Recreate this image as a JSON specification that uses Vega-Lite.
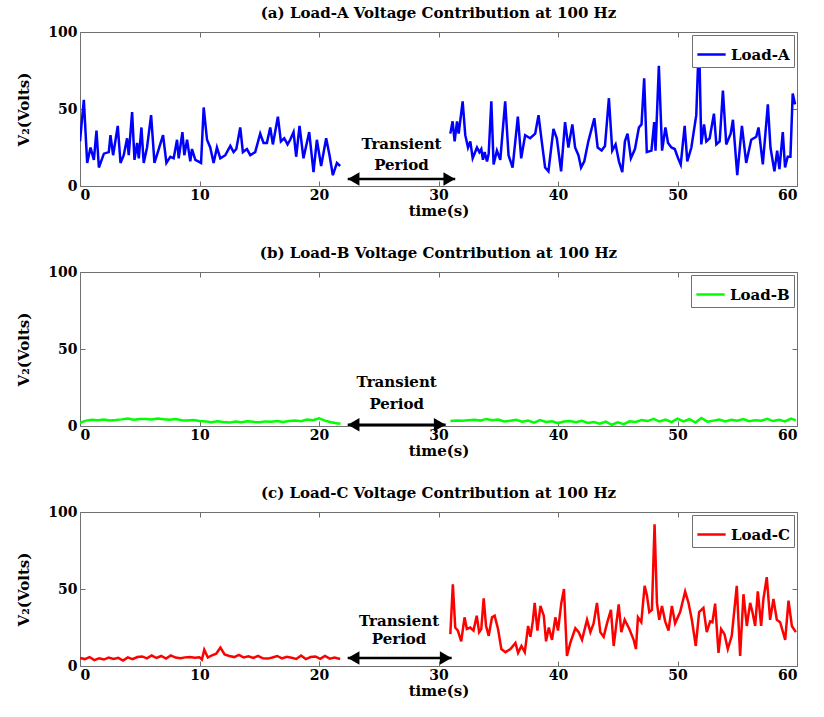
{
  "$schema": "https://vega.github.io/schema/vega-lite/v6.json",
  "padding": {"left": 16, "top": 5, "right": 4, "bottom": 2},
  "spacing": 26,
  "config": {
    "font": "DejaVu Serif",
    "view": {"stroke": "#707070", "strokeWidth": 1},
    "axis": {"grid": false, "domain": false, "labelFont": "DejaVu Serif", "labelFontWeight": "bold", "labelFontSize": 14, "labelColor": "#000", "titleFont": "DejaVu Serif", "titleFontWeight": "bold", "titleFontSize": 15, "titleColor": "#000", "tickColor": "#707070", "tickSize": -5},
    "axisX": {"labelPadding": 7},
    "axisY": {"labelPadding": 8},
    "legend": {"orient": "top-right", "offset": 3, "padding": 4, "strokeColor": "#707070", "fillColor": "#ffffff", "symbolType": "stroke", "symbolStrokeWidth": 2.5, "symbolSize": 800, "labelFont": "DejaVu Serif", "labelFontWeight": "bold", "labelFontSize": 15, "labelColor": "#000", "title": null, "cornerRadius": 0, "labelOffset": 4},
    "title": {"font": "DejaVu Serif", "fontWeight": "bold", "fontSize": 15, "color": "#000", "offset": 4},
    "text": {"font": "DejaVu Serif"}
  },
  "datasets": {
    "a": [
      {"t":0,"v":29,"s":1},{"t":0.32,"v":56,"s":1},{"t":0.6,"v":15,"s":1},{"t":0.88,"v":25,"s":1},{"t":1.16,"v":17,"s":1},{"t":1.38,"v":36,"s":1},{"t":1.58,"v":12,"s":1},{"t":2.0,"v":21,"s":1},{"t":2.41,"v":22,"s":1},{"t":2.55,"v":33,"s":1},{"t":2.77,"v":20,"s":1},{"t":3.16,"v":39,"s":1},{"t":3.39,"v":15,"s":1},{"t":3.66,"v":20,"s":1},{"t":3.94,"v":31,"s":1},{"t":4.08,"v":20,"s":1},{"t":4.36,"v":48,"s":1},{"t":4.56,"v":17,"s":1},{"t":4.78,"v":28,"s":1},{"t":4.92,"v":18,"s":1},{"t":5.14,"v":38,"s":1},{"t":5.33,"v":15,"s":1},{"t":5.61,"v":25,"s":1},{"t":5.95,"v":46,"s":1},{"t":6.23,"v":15,"s":1},{"t":6.59,"v":24,"s":1},{"t":6.95,"v":33,"s":1},{"t":7.23,"v":15,"s":1},{"t":7.56,"v":19,"s":1},{"t":7.84,"v":18,"s":1},{"t":8.12,"v":30,"s":1},{"t":8.26,"v":18,"s":1},{"t":8.57,"v":35,"s":1},{"t":8.73,"v":20,"s":1},{"t":8.96,"v":30,"s":1},{"t":9.23,"v":16,"s":1},{"t":9.37,"v":24,"s":1},{"t":9.65,"v":17,"s":1},{"t":10.13,"v":15,"s":1},{"t":10.35,"v":51,"s":1},{"t":10.63,"v":30,"s":1},{"t":10.9,"v":25,"s":1},{"t":11.18,"v":15,"s":1},{"t":11.46,"v":25,"s":1},{"t":11.74,"v":18,"s":1},{"t":12.16,"v":20,"s":1},{"t":12.58,"v":26,"s":1},{"t":12.85,"v":22,"s":1},{"t":13.08,"v":24,"s":1},{"t":13.41,"v":38,"s":1},{"t":13.63,"v":22,"s":1},{"t":13.97,"v":24,"s":1},{"t":14.25,"v":20,"s":1},{"t":14.66,"v":22,"s":1},{"t":15.08,"v":34,"s":1},{"t":15.36,"v":28,"s":1},{"t":15.64,"v":28,"s":1},{"t":15.92,"v":38,"s":1},{"t":16.14,"v":27,"s":1},{"t":16.56,"v":45,"s":1},{"t":16.81,"v":29,"s":1},{"t":17.09,"v":31,"s":1},{"t":17.37,"v":27,"s":1},{"t":17.59,"v":30,"s":1},{"t":17.87,"v":35,"s":1},{"t":18.09,"v":19,"s":1},{"t":18.37,"v":39,"s":1},{"t":18.7,"v":18,"s":1},{"t":19.18,"v":35,"s":1},{"t":19.54,"v":9,"s":1},{"t":19.82,"v":30,"s":1},{"t":20.18,"v":13,"s":1},{"t":20.6,"v":31,"s":1},{"t":20.88,"v":20,"s":1},{"t":21.16,"v":7,"s":1},{"t":21.5,"v":15,"s":1},{"t":21.77,"v":13,"s":1},
      {"t":30.99,"v":34,"s":2},{"t":31.18,"v":42,"s":2},{"t":31.35,"v":29,"s":2},{"t":31.55,"v":42,"s":2},{"t":31.69,"v":34,"s":2},{"t":32.02,"v":55,"s":2},{"t":32.24,"v":33,"s":2},{"t":32.47,"v":25,"s":2},{"t":32.66,"v":29,"s":2},{"t":32.86,"v":18,"s":2},{"t":33.22,"v":25,"s":2},{"t":33.42,"v":22,"s":2},{"t":33.58,"v":24,"s":2},{"t":33.72,"v":17,"s":2},{"t":33.86,"v":22,"s":2},{"t":34.06,"v":16,"s":2},{"t":34.2,"v":21,"s":2},{"t":34.42,"v":55,"s":2},{"t":34.61,"v":14,"s":2},{"t":34.89,"v":23,"s":2},{"t":35.17,"v":17,"s":2},{"t":35.58,"v":55,"s":2},{"t":35.86,"v":20,"s":2},{"t":36.2,"v":12,"s":2},{"t":36.64,"v":45,"s":2},{"t":36.92,"v":18,"s":2},{"t":37.25,"v":33,"s":2},{"t":37.67,"v":31,"s":2},{"t":38.09,"v":34,"s":2},{"t":38.37,"v":46,"s":2},{"t":38.64,"v":29,"s":2},{"t":38.92,"v":12,"s":2},{"t":39.2,"v":9.5,"s":2},{"t":39.62,"v":37,"s":2},{"t":39.9,"v":31,"s":2},{"t":40.26,"v":9.5,"s":2},{"t":40.59,"v":41.5,"s":2},{"t":40.87,"v":25,"s":2},{"t":41.2,"v":40,"s":2},{"t":41.43,"v":25,"s":2},{"t":41.71,"v":20,"s":2},{"t":41.93,"v":12,"s":2},{"t":42.2,"v":16,"s":2},{"t":42.54,"v":29,"s":2},{"t":43.04,"v":44,"s":2},{"t":43.32,"v":25,"s":2},{"t":43.65,"v":23,"s":2},{"t":43.93,"v":26,"s":2},{"t":44.26,"v":57,"s":2},{"t":44.54,"v":23,"s":2},{"t":44.82,"v":27,"s":2},{"t":45.1,"v":16,"s":2},{"t":45.38,"v":9,"s":2},{"t":45.6,"v":29,"s":2},{"t":45.82,"v":34,"s":2},{"t":46.1,"v":18,"s":2},{"t":46.44,"v":24,"s":2},{"t":46.77,"v":38,"s":2},{"t":46.99,"v":40,"s":2},{"t":47.21,"v":70,"s":2},{"t":47.43,"v":22,"s":2},{"t":47.82,"v":23,"s":2},{"t":48.05,"v":41.5,"s":2},{"t":48.16,"v":23,"s":2},{"t":48.44,"v":78,"s":2},{"t":48.71,"v":23,"s":2},{"t":48.99,"v":38,"s":2},{"t":49.21,"v":28,"s":2},{"t":49.49,"v":25,"s":2},{"t":49.77,"v":24,"s":2},{"t":50.05,"v":18,"s":2},{"t":50.27,"v":14,"s":2},{"t":50.6,"v":39,"s":2},{"t":50.82,"v":16,"s":2},{"t":51.16,"v":25,"s":2},{"t":51.57,"v":46,"s":2},{"t":51.8,"v":96.5,"s":2},{"t":51.99,"v":27,"s":2},{"t":52.22,"v":40,"s":2},{"t":52.41,"v":29,"s":2},{"t":52.69,"v":31,"s":2},{"t":53.05,"v":47,"s":2},{"t":53.25,"v":27,"s":2},{"t":53.53,"v":29,"s":2},{"t":53.8,"v":62,"s":2},{"t":54.08,"v":27,"s":2},{"t":54.45,"v":34,"s":2},{"t":54.64,"v":43,"s":2},{"t":55.0,"v":7,"s":2},{"t":55.39,"v":39,"s":2},{"t":55.75,"v":15,"s":2},{"t":56.17,"v":30,"s":2},{"t":56.59,"v":32,"s":2},{"t":56.78,"v":38,"s":2},{"t":57.14,"v":14,"s":2},{"t":57.56,"v":53,"s":2},{"t":57.78,"v":25,"s":2},{"t":58.11,"v":9.5,"s":2},{"t":58.34,"v":23,"s":2},{"t":58.53,"v":11,"s":2},{"t":58.81,"v":35,"s":2},{"t":59.0,"v":12,"s":2},{"t":59.22,"v":19,"s":2},{"t":59.45,"v":19,"s":2},{"t":59.64,"v":60,"s":2},{"t":59.84,"v":53,"s":2}
    ],
    "b": [
      {"t":0,"v":2,"s":1},{"t":0.5,"v":3.5,"s":1},{"t":1,"v":4,"s":1},{"t":1.5,"v":3.8,"s":1},{"t":2,"v":4.2,"s":1},{"t":2.5,"v":3.6,"s":1},{"t":3,"v":3.9,"s":1},{"t":3.5,"v":4.3,"s":1},{"t":4,"v":4.8,"s":1},{"t":4.5,"v":4.1,"s":1},{"t":5,"v":4.5,"s":1},{"t":5.5,"v":4.6,"s":1},{"t":6,"v":4.2,"s":1},{"t":6.5,"v":4.8,"s":1},{"t":7,"v":4.4,"s":1},{"t":7.5,"v":4.0,"s":1},{"t":8,"v":4.6,"s":1},{"t":8.5,"v":3.8,"s":1},{"t":9,"v":3.5,"s":1},{"t":9.5,"v":3.9,"s":1},{"t":10,"v":3.2,"s":1},{"t":10.5,"v":3.0,"s":1},{"t":11,"v":2.4,"s":1},{"t":11.5,"v":3.1,"s":1},{"t":12,"v":2.6,"s":1},{"t":12.5,"v":2.2,"s":1},{"t":13,"v":2.9,"s":1},{"t":13.5,"v":2.5,"s":1},{"t":14,"v":3.1,"s":1},{"t":14.5,"v":2.7,"s":1},{"t":15,"v":2.4,"s":1},{"t":15.5,"v":3.0,"s":1},{"t":16,"v":2.8,"s":1},{"t":16.5,"v":3.2,"s":1},{"t":17,"v":2.6,"s":1},{"t":17.5,"v":3.3,"s":1},{"t":18,"v":3.6,"s":1},{"t":18.5,"v":3.1,"s":1},{"t":19,"v":4.2,"s":1},{"t":19.5,"v":3.7,"s":1},{"t":20,"v":5.0,"s":1},{"t":20.5,"v":3.5,"s":1},{"t":21,"v":2.4,"s":1},{"t":21.5,"v":1.8,"s":1},{"t":21.8,"v":1.5,"s":1},
      {"t":31,"v":3.2,"s":2},{"t":31.5,"v":3.6,"s":2},{"t":32,"v":3.4,"s":2},{"t":32.5,"v":3.8,"s":2},{"t":33,"v":4.0,"s":2},{"t":33.5,"v":3.5,"s":2},{"t":34,"v":4.6,"s":2},{"t":34.5,"v":3.7,"s":2},{"t":35,"v":4.2,"s":2},{"t":35.5,"v":3.0,"s":2},{"t":36,"v":3.4,"s":2},{"t":36.5,"v":4.0,"s":2},{"t":37,"v":2.8,"s":2},{"t":37.5,"v":3.6,"s":2},{"t":38,"v":2.2,"s":2},{"t":38.5,"v":3.9,"s":2},{"t":39,"v":2.6,"s":2},{"t":39.5,"v":3.1,"s":2},{"t":40,"v":1.8,"s":2},{"t":40.5,"v":2.9,"s":2},{"t":41,"v":3.2,"s":2},{"t":41.5,"v":2.5,"s":2},{"t":42,"v":3.4,"s":2},{"t":42.5,"v":2.0,"s":2},{"t":43,"v":2.6,"s":2},{"t":43.5,"v":1.5,"s":2},{"t":44,"v":2.9,"s":2},{"t":44.5,"v":0.8,"s":2},{"t":45,"v":2.4,"s":2},{"t":45.5,"v":1.2,"s":2},{"t":46,"v":3.0,"s":2},{"t":46.5,"v":2.6,"s":2},{"t":47,"v":3.8,"s":2},{"t":47.5,"v":3.2,"s":2},{"t":48,"v":4.6,"s":2},{"t":48.5,"v":2.9,"s":2},{"t":49,"v":4.2,"s":2},{"t":49.5,"v":2.5,"s":2},{"t":50,"v":4.8,"s":2},{"t":50.5,"v":3.0,"s":2},{"t":51,"v":4.4,"s":2},{"t":51.5,"v":2.2,"s":2},{"t":52,"v":5.2,"s":2},{"t":52.5,"v":2.8,"s":2},{"t":53,"v":3.5,"s":2},{"t":53.5,"v":4.2,"s":2},{"t":54,"v":3.0,"s":2},{"t":54.5,"v":4.0,"s":2},{"t":55,"v":3.4,"s":2},{"t":55.5,"v":4.5,"s":2},{"t":56,"v":3.1,"s":2},{"t":56.5,"v":3.8,"s":2},{"t":57,"v":3.4,"s":2},{"t":57.5,"v":4.6,"s":2},{"t":58,"v":3.2,"s":2},{"t":58.5,"v":4.0,"s":2},{"t":59,"v":3.0,"s":2},{"t":59.5,"v":4.8,"s":2},{"t":59.9,"v":3.6,"s":2}
    ],
    "c": [
      {"t":0,"v":5.2,"s":1},{"t":0.4,"v":4.5,"s":1},{"t":0.8,"v":5.8,"s":1},{"t":1.2,"v":3.8,"s":1},{"t":1.6,"v":5.0,"s":1},{"t":2.0,"v":4.2,"s":1},{"t":2.4,"v":5.5,"s":1},{"t":2.8,"v":4.6,"s":1},{"t":3.2,"v":5.3,"s":1},{"t":3.6,"v":3.5,"s":1},{"t":4.0,"v":5.6,"s":1},{"t":4.4,"v":4.4,"s":1},{"t":4.8,"v":5.8,"s":1},{"t":5.2,"v":6.2,"s":1},{"t":5.6,"v":5.0,"s":1},{"t":6.0,"v":6.8,"s":1},{"t":6.4,"v":5.2,"s":1},{"t":6.8,"v":6.5,"s":1},{"t":7.2,"v":4.8,"s":1},{"t":7.6,"v":6.9,"s":1},{"t":8.0,"v":5.5,"s":1},{"t":8.4,"v":5.0,"s":1},{"t":8.8,"v":5.6,"s":1},{"t":9.2,"v":5.9,"s":1},{"t":9.6,"v":5.3,"s":1},{"t":10.0,"v":5.7,"s":1},{"t":10.2,"v":4.2,"s":1},{"t":10.4,"v":10.5,"s":1},{"t":10.7,"v":5.5,"s":1},{"t":11.0,"v":6.8,"s":1},{"t":11.4,"v":8.0,"s":1},{"t":11.75,"v":12.0,"s":1},{"t":12.1,"v":7.5,"s":1},{"t":12.5,"v":6.5,"s":1},{"t":12.9,"v":5.8,"s":1},{"t":13.3,"v":7.2,"s":1},{"t":13.7,"v":5.5,"s":1},{"t":14.1,"v":6.3,"s":1},{"t":14.5,"v":5.2,"s":1},{"t":14.9,"v":6.6,"s":1},{"t":15.3,"v":5.0,"s":1},{"t":15.7,"v":4.8,"s":1},{"t":16.1,"v":5.5,"s":1},{"t":16.5,"v":6.5,"s":1},{"t":16.9,"v":4.9,"s":1},{"t":17.3,"v":6.0,"s":1},{"t":17.7,"v":5.3,"s":1},{"t":18.1,"v":4.6,"s":1},{"t":18.5,"v":6.8,"s":1},{"t":18.9,"v":4.5,"s":1},{"t":19.3,"v":5.8,"s":1},{"t":19.7,"v":6.2,"s":1},{"t":20.1,"v":4.6,"s":1},{"t":20.5,"v":6.5,"s":1},{"t":20.9,"v":4.8,"s":1},{"t":21.3,"v":5.5,"s":1},{"t":21.77,"v":4.5,"s":1},
      {"t":30.99,"v":20.7,"s":2},{"t":31.2,"v":53,"s":2},{"t":31.4,"v":25,"s":2},{"t":31.62,"v":23,"s":2},{"t":31.9,"v":16,"s":2},{"t":32.18,"v":31.6,"s":2},{"t":32.37,"v":24,"s":2},{"t":32.65,"v":25,"s":2},{"t":32.93,"v":23,"s":2},{"t":33.2,"v":32.7,"s":2},{"t":33.4,"v":22,"s":2},{"t":33.58,"v":24,"s":2},{"t":33.78,"v":44,"s":2},{"t":33.98,"v":26,"s":2},{"t":34.2,"v":19.6,"s":2},{"t":34.48,"v":31.6,"s":2},{"t":34.7,"v":32.7,"s":2},{"t":34.98,"v":24,"s":2},{"t":35.26,"v":11,"s":2},{"t":35.6,"v":9,"s":2},{"t":36.02,"v":11,"s":2},{"t":36.44,"v":15,"s":2},{"t":36.66,"v":8.5,"s":2},{"t":36.94,"v":13,"s":2},{"t":37.22,"v":9,"s":2},{"t":37.5,"v":26,"s":2},{"t":37.69,"v":19,"s":2},{"t":37.89,"v":28.8,"s":2},{"t":38.05,"v":41,"s":2},{"t":38.28,"v":23,"s":2},{"t":38.53,"v":39,"s":2},{"t":38.81,"v":32.7,"s":2},{"t":39.0,"v":16,"s":2},{"t":39.23,"v":25,"s":2},{"t":39.5,"v":17,"s":2},{"t":39.78,"v":31.6,"s":2},{"t":40.0,"v":23,"s":2},{"t":40.28,"v":41,"s":2},{"t":40.5,"v":50,"s":2},{"t":40.75,"v":6.5,"s":2},{"t":41.03,"v":15,"s":2},{"t":41.45,"v":24.5,"s":2},{"t":41.73,"v":22,"s":2},{"t":42.01,"v":17,"s":2},{"t":42.43,"v":30,"s":2},{"t":42.71,"v":22,"s":2},{"t":42.98,"v":27.7,"s":2},{"t":43.26,"v":41,"s":2},{"t":43.54,"v":22,"s":2},{"t":43.82,"v":19,"s":2},{"t":44.1,"v":27.7,"s":2},{"t":44.43,"v":36.4,"s":2},{"t":44.66,"v":13,"s":2},{"t":45.08,"v":40,"s":2},{"t":45.3,"v":22,"s":2},{"t":45.58,"v":30,"s":2},{"t":45.97,"v":24,"s":2},{"t":46.33,"v":17,"s":2},{"t":46.52,"v":11,"s":2},{"t":46.69,"v":31.6,"s":2},{"t":46.97,"v":28.4,"s":2},{"t":47.25,"v":52,"s":2},{"t":47.44,"v":46,"s":2},{"t":47.64,"v":35,"s":2},{"t":47.86,"v":36.4,"s":2},{"t":48.08,"v":92,"s":2},{"t":48.28,"v":41,"s":2},{"t":48.47,"v":30,"s":2},{"t":48.7,"v":39,"s":2},{"t":48.97,"v":29,"s":2},{"t":49.25,"v":23,"s":2},{"t":49.53,"v":39,"s":2},{"t":49.8,"v":27.7,"s":2},{"t":50.22,"v":35,"s":2},{"t":50.64,"v":48.4,"s":2},{"t":50.92,"v":41,"s":2},{"t":51.2,"v":30,"s":2},{"t":51.53,"v":13,"s":2},{"t":51.81,"v":35,"s":2},{"t":52.17,"v":37.7,"s":2},{"t":52.45,"v":22,"s":2},{"t":52.73,"v":29,"s":2},{"t":52.92,"v":28.4,"s":2},{"t":53.15,"v":40.5,"s":2},{"t":53.43,"v":8.5,"s":2},{"t":53.65,"v":24,"s":2},{"t":53.93,"v":20.7,"s":2},{"t":54.21,"v":11,"s":2},{"t":54.54,"v":19.6,"s":2},{"t":54.96,"v":52,"s":2},{"t":55.24,"v":6.5,"s":2},{"t":55.52,"v":46.6,"s":2},{"t":55.8,"v":26,"s":2},{"t":56.08,"v":41,"s":2},{"t":56.27,"v":35,"s":2},{"t":56.5,"v":26,"s":2},{"t":56.72,"v":48.4,"s":2},{"t":57.0,"v":26,"s":2},{"t":57.19,"v":43.5,"s":2},{"t":57.47,"v":57.7,"s":2},{"t":57.75,"v":30,"s":2},{"t":58.03,"v":43.5,"s":2},{"t":58.31,"v":30,"s":2},{"t":58.59,"v":28.4,"s":2},{"t":59.01,"v":17,"s":2},{"t":59.29,"v":42.5,"s":2},{"t":59.57,"v":26,"s":2},{"t":59.9,"v":22,"s":2}
    ]
  },
  "vconcat": [
    {
      "width": 717, "height": 154,
      "title": "(a) Load-A Voltage Contribution at 100 Hz",
      "resolve": {"axis": {"x": "independent", "y": "independent"}},
      "layer": [
        {
          "data": {"name": "a"},
          "mark": {"type": "line", "strokeWidth": 2.5, "clip": true},
          "encoding": {
            "x": {"field": "t", "type": "quantitative", "scale": {"domain": [0, 60], "nice": false}, "axis": {"values": [0,10,20,30,40,50,60], "title": "time(s)", "titlePadding": 1}},
            "y": {"field": "v", "type": "quantitative", "scale": {"domain": [0, 100], "nice": false}, "axis": {"values": [0,50,100], "title": "V₂(Volts)", "titlePadding": 16}},
            "color": {"datum": "Load-A", "scale": {"range": ["#0000ff"]}},
            "detail": {"field": "s"}
          }
        },
        {
          "data": {"name": "a"},
          "mark": {"type": "point", "opacity": 0},
          "encoding": {
            "x": {"field": "t", "type": "quantitative", "axis": {"orient": "top", "values": [0,10,20,30,40,50,60], "labels": false, "title": null}},
            "y": {"field": "v", "type": "quantitative", "axis": {"orient": "right", "values": [0,50,100], "labels": false, "title": null}}
          }
        },
        {
          "data": {"values": [{"x1": 22.4, "x2": 31.4, "y": 4.5}]},
          "mark": {"type": "rule", "strokeWidth": 2.5, "color": "#000"},
          "encoding": {"x": {"field": "x1", "type": "quantitative", "axis": null}, "x2": {"field": "x2"}, "y": {"field": "y", "type": "quantitative", "axis": null}}
        },
        {
          "data": {"values": [{"x": 22.9, "y": 4.5, "dir": "triangle-left"}, {"x": 30.9, "y": 4.5, "dir": "triangle-right"}]},
          "mark": {"type": "point", "filled": true, "size": 180, "opacity": 1, "color": "#000"},
          "encoding": {"x": {"field": "x", "type": "quantitative", "axis": null}, "y": {"field": "y", "type": "quantitative", "axis": null}, "shape": {"field": "dir", "type": "nominal", "scale": {"domain": ["triangle-left", "triangle-right"], "range": ["triangle-left", "triangle-right"]}, "legend": null}}
        },
        {
          "data": {"values": [{"x": 26.9, "y": 27, "label": "Transient"}, {"x": 26.9, "y": 13.5, "label": "Period"}]},
          "mark": {"type": "text", "fontWeight": "bold", "fontSize": 15, "color": "#000"},
          "encoding": {"x": {"field": "x", "type": "quantitative", "axis": null}, "y": {"field": "y", "type": "quantitative", "axis": null}, "text": {"field": "label"}}
        }
      ]
    },
    {
      "width": 717, "height": 154,
      "title": "(b) Load-B Voltage Contribution at 100 Hz",
      "resolve": {"axis": {"x": "independent", "y": "independent"}},
      "layer": [
        {
          "data": {"name": "b"},
          "mark": {"type": "line", "strokeWidth": 2.5, "clip": true},
          "encoding": {
            "x": {"field": "t", "type": "quantitative", "scale": {"domain": [0, 60], "nice": false}, "axis": {"values": [0,10,20,30,40,50,60], "title": "time(s)", "titlePadding": 1}},
            "y": {"field": "v", "type": "quantitative", "scale": {"domain": [0, 100], "nice": false}, "axis": {"values": [0,50,100], "title": "V₂(Volts)", "titlePadding": 16}},
            "color": {"datum": "Load-B", "scale": {"range": ["#00ff00"]}},
            "detail": {"field": "s"}
          }
        },
        {
          "data": {"name": "b"},
          "mark": {"type": "point", "opacity": 0},
          "encoding": {
            "x": {"field": "t", "type": "quantitative", "axis": {"orient": "top", "values": [0,10,20,30,40,50,60], "labels": false, "title": null}},
            "y": {"field": "v", "type": "quantitative", "axis": {"orient": "right", "values": [0,50,100], "labels": false, "title": null}}
          }
        },
        {
          "data": {"values": [{"x1": 22.4, "x2": 30.6, "y": 0.8}]},
          "mark": {"type": "rule", "strokeWidth": 2.5, "color": "#000"},
          "encoding": {"x": {"field": "x1", "type": "quantitative", "axis": null}, "x2": {"field": "x2"}, "y": {"field": "y", "type": "quantitative", "axis": null}}
        },
        {
          "data": {"values": [{"x": 22.9, "y": 0.8, "dir": "triangle-left"}, {"x": 30.1, "y": 0.8, "dir": "triangle-right"}]},
          "mark": {"type": "point", "filled": true, "size": 180, "opacity": 1, "color": "#000"},
          "encoding": {"x": {"field": "x", "type": "quantitative", "axis": null}, "y": {"field": "y", "type": "quantitative", "axis": null}, "shape": {"field": "dir", "type": "nominal", "scale": {"domain": ["triangle-left", "triangle-right"], "range": ["triangle-left", "triangle-right"]}, "legend": null}}
        },
        {
          "data": {"values": [{"x": 26.5, "y": 28.6, "label": "Transient"}, {"x": 26.5, "y": 14.3, "label": "Period"}]},
          "mark": {"type": "text", "fontWeight": "bold", "fontSize": 15, "color": "#000"},
          "encoding": {"x": {"field": "x", "type": "quantitative", "axis": null}, "y": {"field": "y", "type": "quantitative", "axis": null}, "text": {"field": "label"}}
        }
      ]
    },
    {
      "width": 717, "height": 154,
      "title": "(c) Load-C Voltage Contribution at 100 Hz",
      "resolve": {"axis": {"x": "independent", "y": "independent"}},
      "layer": [
        {
          "data": {"name": "c"},
          "mark": {"type": "line", "strokeWidth": 2.5, "clip": true},
          "encoding": {
            "x": {"field": "t", "type": "quantitative", "scale": {"domain": [0, 60], "nice": false}, "axis": {"values": [0,10,20,30,40,50,60], "title": "time(s)", "titlePadding": 1}},
            "y": {"field": "v", "type": "quantitative", "scale": {"domain": [0, 100], "nice": false}, "axis": {"values": [0,50,100], "title": "V₂(Volts)", "titlePadding": 16}},
            "color": {"datum": "Load-C", "scale": {"range": ["#ff0000"]}},
            "detail": {"field": "s"}
          }
        },
        {
          "data": {"name": "c"},
          "mark": {"type": "point", "opacity": 0},
          "encoding": {
            "x": {"field": "t", "type": "quantitative", "axis": {"orient": "top", "values": [0,10,20,30,40,50,60], "labels": false, "title": null}},
            "y": {"field": "v", "type": "quantitative", "axis": {"orient": "right", "values": [0,50,100], "labels": false, "title": null}}
          }
        },
        {
          "data": {"values": [{"x1": 22.4, "x2": 31.1, "y": 5.2}]},
          "mark": {"type": "rule", "strokeWidth": 2.5, "color": "#000"},
          "encoding": {"x": {"field": "x1", "type": "quantitative", "axis": null}, "x2": {"field": "x2"}, "y": {"field": "y", "type": "quantitative", "axis": null}}
        },
        {
          "data": {"values": [{"x": 22.9, "y": 5.2, "dir": "triangle-left"}, {"x": 30.6, "y": 5.2, "dir": "triangle-right"}]},
          "mark": {"type": "point", "filled": true, "size": 180, "opacity": 1, "color": "#000"},
          "encoding": {"x": {"field": "x", "type": "quantitative", "axis": null}, "y": {"field": "y", "type": "quantitative", "axis": null}, "shape": {"field": "dir", "type": "nominal", "scale": {"domain": ["triangle-left", "triangle-right"], "range": ["triangle-left", "triangle-right"]}, "legend": null}}
        },
        {
          "data": {"values": [{"x": 26.7, "y": 29.4, "label": "Transient"}, {"x": 26.7, "y": 17.6, "label": "Period"}]},
          "mark": {"type": "text", "fontWeight": "bold", "fontSize": 15, "color": "#000"},
          "encoding": {"x": {"field": "x", "type": "quantitative", "axis": null}, "y": {"field": "y", "type": "quantitative", "axis": null}, "text": {"field": "label"}}
        }
      ]
    }
  ],
  "resolve": {"scale": {"color": "independent", "shape": "independent"}, "legend": {"color": "independent"}}
}
